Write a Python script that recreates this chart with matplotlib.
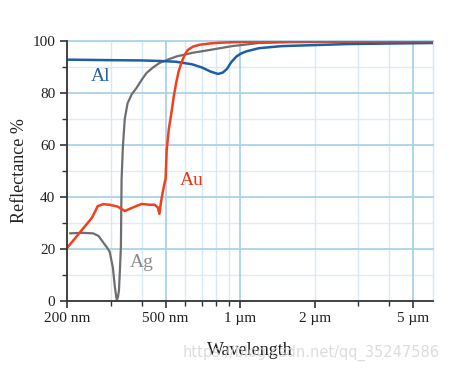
import matplotlib
matplotlib.use("Agg")
import matplotlib.pyplot as plt
from matplotlib.ticker import FixedLocator, NullFormatter

plt.rcParams['font.family'] = ['Liberation Serif', 'DejaVu Serif']

# wavelength in nm, reflectance in %
al_wl = [200, 300, 400, 472, 550, 640, 700, 760, 814, 850, 884, 920, 965, 1010, 1060, 1190, 1470, 2000, 2740, 4000, 6000]
al_r = [92.8, 92.6, 92.5, 92.3, 92.0, 91.0, 89.8, 88.2, 87.3, 87.8, 89.2, 91.8, 94.0, 95.2, 96.0, 97.2, 98.0, 98.4, 98.8, 99.0, 99.2]

ag_wl = [206, 230, 255, 268, 279, 290, 297, 306, 312, 316, 318, 321, 324, 327, 330, 332, 336, 342, 351, 365,
         382, 400, 419, 445, 472, 510, 552, 640, 751, 928, 1190, 1600, 2500, 6000]
ag_r = [26.0, 26.2, 26.0, 25.0, 22.7, 20.5, 19.0, 13.0, 5.4, 1.5, 0.4, 1.5, 4.0, 12.0, 21.0, 46.5, 59.0, 70.0, 76.0, 79.5,
        82.0, 85.0, 87.7, 89.8, 91.5, 92.8, 94.0, 95.4, 96.5, 98.0, 99.2, 99.5, 99.6, 99.7]

au_wl = [200, 213, 226, 240, 252, 260, 266, 280, 297, 320, 342, 370, 400, 430, 451, 465, 472, 479, 486, 493, 500, 505,
         515, 527, 540, 552, 565, 579, 596, 614, 645, 683, 750, 823, 1000, 2000, 6000]
au_r = [20.4, 23.5, 26.5, 29.5, 32.0, 34.5, 36.5, 37.2, 37.0, 36.3, 34.6, 36.0, 37.3, 37.0, 37.0, 36.0, 33.5, 38.0, 41.5, 44.5, 47.0, 58.0,
        66.0, 72.0, 79.0, 84.0, 88.5, 91.5, 94.5, 96.5, 97.8, 98.5, 99.0, 99.3, 99.6, 99.8, 99.9]

major_x = [500, 1000, 5000]
minor_x = [300, 400, 600, 700, 800, 900, 2000, 3000, 4000, 6000]
xtick_pos = [200, 500, 1000, 2000, 5000]
xtick_lab = ['200 nm', '500 nm', '1 µm', '2 µm', '5 µm']
xtick_minor = [300, 400, 600, 700, 800, 900, 3000, 4000]

fig = plt.figure(figsize=(4.5, 3.72), dpi=100)
ax = fig.add_axes([0.149, 0.191, 0.813, 0.699])

ax.set_xscale('log')
ax.set_xlim(200, 6000)
ax.set_ylim(0, 100)

# grid
for y in [10, 30, 50, 70, 90]:
    ax.axhline(y, color='#dcedf8', lw=1.0, zorder=0)
for y in [20, 40, 60, 80, 100]:
    ax.axhline(y, color='#a9d3ec', lw=1.3, zorder=0.5, clip_on=False)
for x in minor_x:
    ax.axvline(x, color='#d6eaf6', lw=1.0, zorder=0, clip_on=False)
for x in major_x:
    ax.axvline(x, color='#a9d3ec', lw=1.3, zorder=0.5)

ax.plot(ag_wl, ag_r, color='#6e6e6e', lw=1.6, zorder=2)
ax.plot(al_wl, al_r, color='#1d5ea8', lw=1.8, zorder=3)
ax.plot(au_wl, au_r, color='#f0401c', lw=1.8, zorder=4)

ax.text(274, 86.2, 'Al', color='#2b63a8', fontsize=14, ha='center', va='center')
ax.text(640, 46.5, 'Au', color='#e5391a', fontsize=14, ha='center', va='center')
ax.text(400, 14.6, 'Ag', color='#8a8a8a', fontsize=14, ha='center', va='center')

ax.xaxis.set_major_locator(FixedLocator(xtick_pos))
ax.xaxis.set_minor_locator(FixedLocator(xtick_minor))
ax.xaxis.set_minor_formatter(NullFormatter())
ax.set_xticklabels(xtick_lab)
ax.set_yticks([0, 20, 40, 60, 80, 100])
ax.set_yticks([10, 30, 50, 70, 90], minor=True)

ax.tick_params(which='major', direction='out', length=5, width=1.2, color='#333333',
               labelsize=11, labelcolor='#222222')
ax.tick_params(which='minor', direction='out', length=3.5, width=1.0, color='#333333')
ax.tick_params(axis='x', pad=3)

for s in ['top', 'right']:
    ax.spines[s].set_visible(False)
for s in ['left', 'bottom']:
    ax.spines[s].set_color('#333333')
    ax.spines[s].set_linewidth(1.3)
    ax.spines[s].set_zorder(5)

ax.set_xlabel('Wavelength', fontsize=13, color='#222222', labelpad=12)
ax.set_ylabel('Reflectance %', fontsize=13, color='#222222', labelpad=3)

fig.text(440 / 450, 1 - 353 / 372, 'https://blog.csdn.net/qq_35247586', family='DejaVu Sans',
         fontsize=10.5, color='#d4d4d4', alpha=0.8, ha='right', va='center', zorder=10)

fig.savefig('out.png', dpi=100)
